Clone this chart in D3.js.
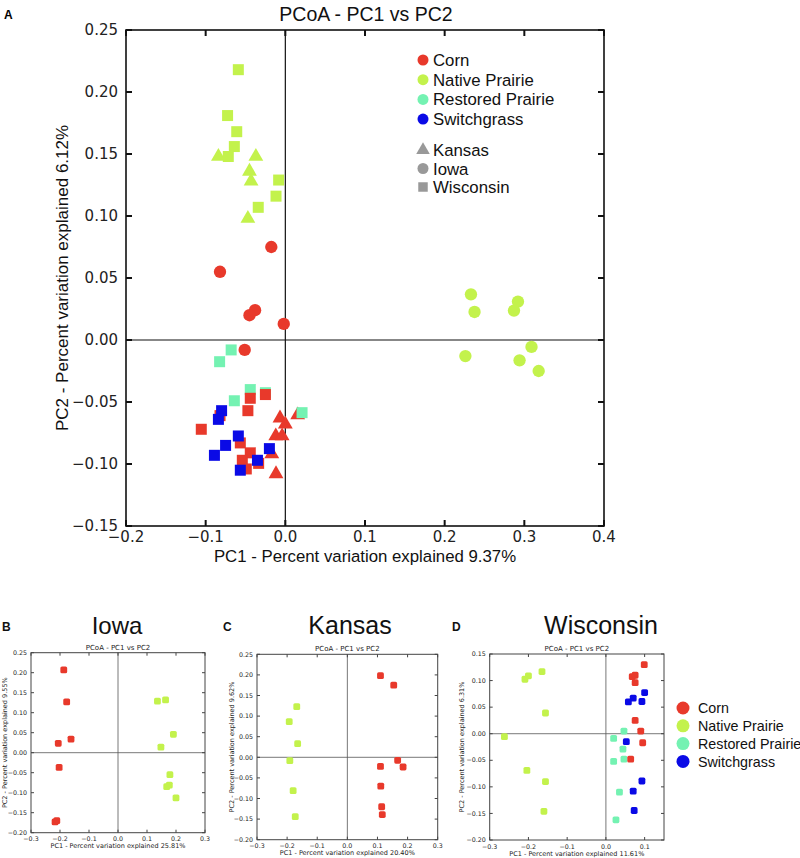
<!DOCTYPE html>
<html><head><meta charset="utf-8">
<script src="https://cdn.jsdelivr.net/npm/d3@7"></script>
<style>body{margin:0;background:#fff}svg{display:block}</style>
</head><body>
<svg id="c" width="800" height="858"></svg>
<script>
const groups = ["Corn","Native Prairie","Restored Prairie","Switchgrass"];
const groupColors = ["#e8392b","#c3f24c","#74f2b2","#0a0ae6"];
const sites = ["Kansas","Iowa","Wisconsin"];
const mainXTicks = [-0.2,-0.1,0.0,0.1,0.2,0.3,0.4];
const mainYTicks = [-0.15,-0.10,-0.05,0.00,0.05,0.10,0.15,0.20,0.25];

// Main panel A: [x, y] per group & site
const cornKansas = [[-0.0067,-0.063],[0.0,-0.068],[0.0155,-0.0605],[-0.012,-0.0774],[-0.004,-0.0774],[-0.017,-0.092],[-0.0117,-0.108]];
const cornIowa = [[-0.0176,0.075],[-0.082,0.055],[-0.038,0.024],[-0.045,0.020],[-0.002,0.013],[-0.051,-0.008]];
const cornWisconsin = [[-0.044,-0.047],[-0.025,-0.044],[-0.047,-0.057],[-0.082,-0.061],[-0.1055,-0.072],[-0.0565,-0.083],[-0.044,-0.091],[-0.054,-0.097],[-0.0335,-0.0995],[-0.049,-0.104]];
const nativeKansas = [[-0.084,0.148],[-0.037,0.148],[-0.045,0.136],[-0.043,0.128],[-0.047,0.098]];
const nativeIowa = [[0.233,0.0368],[0.2375,0.0226],[0.292,0.031],[0.287,0.0237],[0.226,-0.013],[0.309,-0.0056],[0.294,-0.0164],[0.318,-0.025]];
const nativeWisconsin = [[-0.059,0.218],[-0.0725,0.181],[-0.061,0.168],[-0.064,0.156],[-0.0716,0.148],[-0.0084,0.129],[-0.0117,0.116],[-0.034,0.107]];
const restoredWisconsin = [[-0.068,-0.008],[-0.0825,-0.0175],[-0.044,-0.040],[-0.025,-0.0425],[-0.064,-0.049],[0.021,-0.0586]];
const switchWisconsin = [[-0.080,-0.057],[-0.084,-0.064],[-0.059,-0.0774],[-0.075,-0.085],[-0.089,-0.093],[-0.020,-0.0876],[-0.035,-0.097],[-0.0565,-0.105]];

// Panel B Iowa
const iowaCorn = [[-0.187,0.207],[-0.177,0.127],[-0.162,0.034],[-0.206,0.0235],[-0.203,-0.0366],[-0.211,-0.170],[-0.217,-0.173]];
const iowaNative = [[0.136,0.129],[0.164,0.132],[0.191,0.046],[0.148,0.014],[0.179,-0.055],[0.177,-0.081],[0.168,-0.085],[0.200,-0.113]];
// Panel C Kansas
const kansasCorn = [[0.110,0.198],[0.154,0.175],[0.167,-0.0073],[0.185,-0.0235],[0.110,-0.022],[0.111,-0.070],[0.114,-0.120],[0.116,-0.139]];
const kansasNative = [[-0.168,0.123],[-0.193,0.0865],[-0.165,0.033],[-0.191,-0.008],[-0.180,-0.081],[-0.173,-0.144]];
// Panel D Wisconsin
const wiscCorn = [[0.099,0.130],[0.068,0.1075],[0.0755,0.110],[0.0755,0.096],[0.0755,0.025],[0.090,0.005],[0.095,-0.017],[0.064,-0.048]];
const wiscNative = [[-0.165,0.117],[-0.200,0.109],[-0.209,0.1025],[-0.156,0.039],[-0.262,-0.0056],[-0.204,-0.069],[-0.156,-0.090],[-0.160,-0.146]];
const wiscRestored = [[0.0466,0.005],[0.020,-0.0088],[0.044,-0.029],[0.0466,-0.048],[0.020,-0.052],[0.035,-0.110],[0.026,-0.162]];
const wiscSwitch = [[0.100,0.0775],[0.0705,0.067],[0.058,0.060],[0.093,0.0606],[0.0527,-0.015],[0.093,-0.089],[0.0705,-0.108],[0.073,-0.1445]];

const smallXTicks = [-0.3,-0.2,-0.1,0.0,0.1,0.2,0.3];
const smallYTicks = [-0.20,-0.15,-0.10,-0.05,0.00,0.05,0.10,0.15,0.20,0.25];
const wiscXTicks = [-0.3,-0.2,-0.1,0.0,0.1];
const wiscYTicks = [-0.20,-0.15,-0.10,-0.05,0.00,0.05,0.10,0.15];

const svg = d3.select("#c");
const color = d3.scaleOrdinal(groups, groupColors);
const fmt = (d, p) => d3.format("." + p + "f")(d).replace("-", "\u2212");
const TICKF = "DejaVu Sans, sans-serif";
const LABF = "Liberation Sans, Arial, sans-serif";

function frame(g, x, y, xt, yt, opts) {
  const [x0, x1] = x.range(), [y0, y1] = y.range();
  const tl = opts.tick;
  g.append("line").attr("x1", x(0)).attr("x2", x(0)).attr("y1", y0).attr("y2", y1).attr("stroke", opts.zeroColor).attr("stroke-width", opts.zeroW);
  g.append("line").attr("x1", x0).attr("x2", x1).attr("y1", y(0)).attr("y2", y(0)).attr("stroke", opts.zeroColor).attr("stroke-width", opts.zeroW);
  g.append("rect").attr("x", x0).attr("y", y1).attr("width", x1 - x0).attr("height", y0 - y1)
    .attr("fill", "none").attr("stroke", opts.frameColor).attr("stroke-width", opts.frameW);
  xt.forEach(t => {
    g.append("line").attr("x1", x(t)).attr("x2", x(t)).attr("y1", y0).attr("y2", y0 - tl).attr("stroke", opts.frameColor).attr("stroke-width", opts.tickW);
    g.append("line").attr("x1", x(t)).attr("x2", x(t)).attr("y1", y1).attr("y2", y1 + tl).attr("stroke", opts.frameColor).attr("stroke-width", opts.tickW);
    g.append("text").attr("x", x(t)).attr("y", y0 + opts.xLabOff).attr("text-anchor", "middle")
      .attr("font-family", TICKF).attr("font-size", opts.tickFont).attr("fill", "#222").text(fmt(t, opts.xp));
  });
  yt.forEach(t => {
    g.append("line").attr("x1", x0).attr("x2", x0 + tl).attr("y1", y(t)).attr("y2", y(t)).attr("stroke", opts.frameColor).attr("stroke-width", opts.tickW);
    g.append("line").attr("x1", x1).attr("x2", x1 - tl).attr("y1", y(t)).attr("y2", y(t)).attr("stroke", opts.frameColor).attr("stroke-width", opts.tickW);
    g.append("text").attr("x", x0 - opts.yLabOff).attr("y", y(t)).attr("dy", "0.35em").attr("text-anchor", "end")
      .attr("font-family", TICKF).attr("font-size", opts.tickFont).attr("fill", "#222").text(fmt(t, 2));
  });
}

// ---------- Panel A ----------
const mx = d3.scaleLinear().domain([-0.2, 0.4]).range([126, 604]);
const my = d3.scaleLinear().domain([-0.15, 0.25]).range([526, 30]);
const gA = svg.append("g");
frame(gA, mx, my, mainXTicks, mainYTicks, {tick: 6, zeroColor: "#111", zeroW: 1.2, frameColor: "#111", frameW: 1.6, tickW: 2, tickFont: 15, xLabOff: 16, yLabOff: 8, xp: 1});

const mainSeries = [
  [cornKansas, 0, 0], [nativeKansas, 1, 0],
  [cornIowa, 0, 1], [nativeIowa, 1, 1],
  [nativeWisconsin, 1, 2], [restoredWisconsin, 2, 2], [cornWisconsin, 0, 2], [switchWisconsin, 3, 2]
];
const symTypes = [d3.symbolTriangle, d3.symbolCircle, d3.symbolSquare];
const symSizes = [95, 120, 121];
mainSeries.forEach(([pts, gi, si]) => {
  gA.selectAll(null).data(pts).enter().append("path")
    .attr("transform", d => `translate(${mx(d[0])},${my(d[1])})`)
    .attr("d", d3.symbol(symTypes[si], symSizes[si])())
    .attr("fill", color(groups[gi]));
});

svg.append("text").attr("x", 366).attr("y", 21).attr("text-anchor", "middle").attr("font-family", LABF).attr("font-size", 19.5).attr("fill", "#111").text("PCoA - PC1 vs PC2");
svg.append("text").attr("x", 4).attr("y", 19).attr("font-family", LABF).attr("font-size", 12).attr("font-weight", "bold").text("A");
svg.append("text").attr("x", 365).attr("y", 562).attr("text-anchor", "middle").attr("font-family", LABF).attr("font-size", 16.8).attr("fill", "#111").text("PC1 - Percent variation explained 9.37%");
svg.append("text").attr("transform", "translate(68,278) rotate(-90)").attr("text-anchor", "middle").attr("font-family", LABF).attr("font-size", 17).attr("fill", "#111").text("PC2 - Percent variation explained 6.12%");

// legend A
const legA = svg.append("g");
groups.forEach((gname, i) => {
  const yy = 60 + i * 19.7;
  legA.append("circle").attr("cx", 423).attr("cy", yy).attr("r", 5.5).attr("fill", color(gname));
  legA.append("text").attr("x", 433).attr("y", yy).attr("dy", "0.36em").attr("font-family", LABF).attr("font-size", 16.8).attr("fill", "#111").text(gname);
});
sites.forEach((s, i) => {
  const yy = 150 + i * 18.5;
  legA.append("path").attr("transform", `translate(423,${yy})`).attr("d", d3.symbol(symTypes[i], [80, 95, 90][i])()).attr("fill", "#999");
  legA.append("text").attr("x", 433).attr("y", yy).attr("dy", "0.36em").attr("font-family", LABF).attr("font-size", 16.8).attr("fill", "#111").text(s);
});

// ---------- Small panels ----------
function small(cfg) {
  const x = d3.scaleLinear().domain(cfg.xd).range(cfg.xr);
  const y = d3.scaleLinear().domain(cfg.yd).range(cfg.yr);
  const g = svg.append("g");
  frame(g, x, y, cfg.xt, cfg.yt, {tick: 3, zeroColor: "#555", zeroW: 0.8, frameColor: "#444", frameW: 1, tickW: 1, tickFont: 6.3, xLabOff: 8.5, yLabOff: 4, xp: 1});
  cfg.series.forEach(([pts, gi]) => {
    g.selectAll(null).data(pts).enter().append("rect")
      .attr("x", d => x(d[0]) - 3.4).attr("y", d => y(d[1]) - 3.4)
      .attr("width", 6.8).attr("height", 6.8).attr("rx", 1.6)
      .attr("fill", color(groups[gi]));
  });
  const cx = (cfg.xr[0] + cfg.xr[1]) / 2;
  g.append("text").attr("x", cx).attr("y", cfg.yr[1] - 3).attr("text-anchor", "middle").attr("font-family", TICKF).attr("font-size", 7).attr("fill", "#222").text("PCoA - PC1 vs PC2");
  g.append("text").attr("x", cx).attr("y", cfg.yr[0] + 15.5).attr("text-anchor", "middle").attr("font-family", TICKF).attr("font-size", 6.5).attr("fill", "#222").text(cfg.xlab);
  g.append("text").attr("transform", `translate(${cfg.ylx},${(cfg.yr[0] + cfg.yr[1]) / 2}) rotate(-90)`).attr("text-anchor", "middle").attr("font-family", TICKF).attr("font-size", 6.5).attr("fill", "#222").text(cfg.ylab);
  g.append("text").attr("x", cfg.tx).attr("y", 634).attr("text-anchor", "middle").attr("font-family", LABF).attr("font-size", cfg.tsize).attr("fill", "#111").text(cfg.title);
  g.append("text").attr("x", cfg.lx).attr("y", 631).attr("font-family", LABF).attr("font-size", 12).attr("font-weight", "bold").attr("fill", "#111").text(cfg.letter);
}

small({xd: [-0.3, 0.3], xr: [31, 205], yd: [-0.2, 0.25], yr: [832.7, 652.7], xt: smallXTicks, yt: smallYTicks,
  series: [[iowaCorn, 0], [iowaNative, 1]], xlab: "PC1 - Percent variation explained 25.81%", ylab: "PC2 - Percent variation explained 9.55%",
  ylx: 7, tx: 117, title: "Iowa", tsize: 24, lx: 2, letter: "B"});
small({xd: [-0.3, 0.3], xr: [257, 437.7], yd: [-0.2, 0.25], yr: [839.7, 654.3], xt: smallXTicks, yt: smallYTicks,
  series: [[kansasCorn, 0], [kansasNative, 1]], xlab: "PC1 - Percent variation explained 20.40%", ylab: "PC2 - Percent variation explained 9.62%",
  ylx: 234, tx: 350, title: "Kansas", tsize: 25, lx: 223, letter: "C"});
small({xd: [-0.3, 0.15], xr: [489.7, 664], yd: [-0.2, 0.15], yr: [840, 654], xt: wiscXTicks, yt: wiscYTicks,
  series: [[wiscNative, 1], [wiscRestored, 2], [wiscCorn, 0], [wiscSwitch, 3]], xlab: "PC1 - Percent variation explained 11.61%", ylab: "PC2 - Percent variation explained 6.31%",
  ylx: 464, tx: 601, title: "Wisconsin", tsize: 25, lx: 452, letter: "D"});

// legend D
groups.forEach((gname, i) => {
  const yy = 708 + i * 17.8;
  svg.append("circle").attr("cx", 683).attr("cy", yy).attr("r", 6.5).attr("fill", color(gname));
  svg.append("text").attr("x", 698).attr("y", yy).attr("dy", "0.36em").attr("font-family", LABF).attr("font-size", 14.3).attr("fill", "#111").text(gname);
});
</script>
</body></html>
